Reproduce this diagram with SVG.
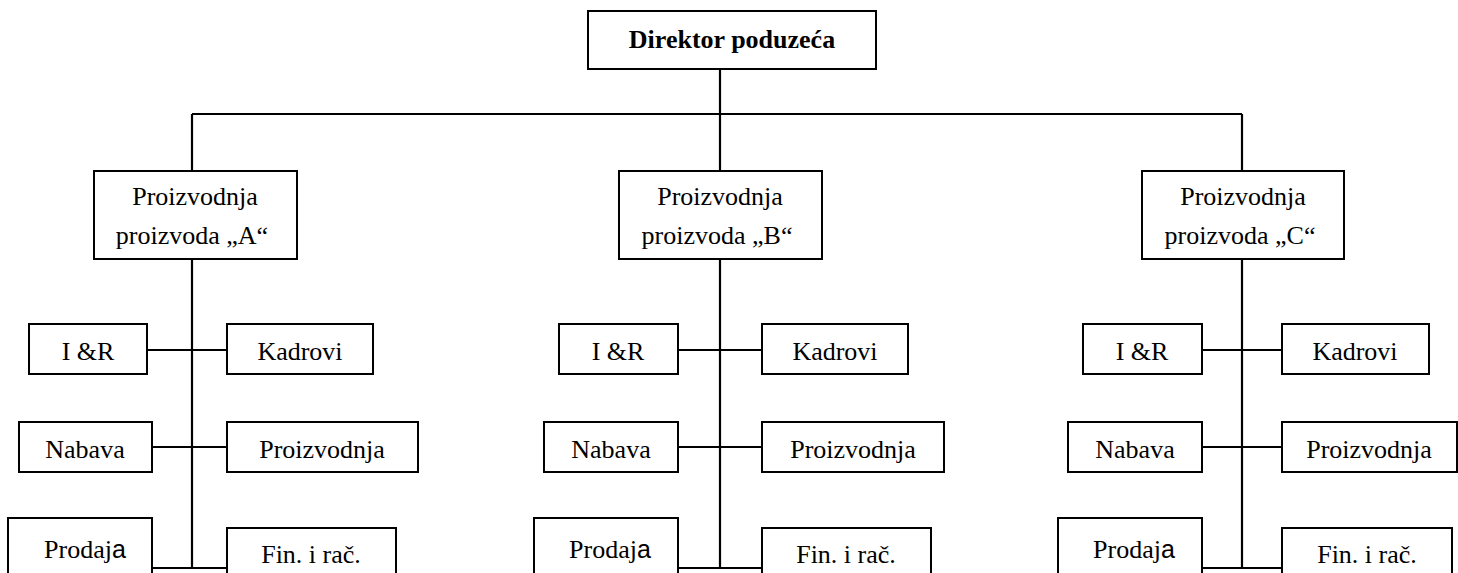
<svg xmlns="http://www.w3.org/2000/svg" width="1458" height="573" viewBox="0 0 1458 573">
<style>
.b{fill:#fff;stroke:#000;stroke-width:2}
.t{font-family:"Liberation Serif","Times New Roman",serif;font-size:26px;fill:#000;text-anchor:middle}
.bold{font-weight:bold}
.s{font-family:"Liberation Sans",Arial,sans-serif;font-size:25px}
.c{stroke:#000;stroke-width:2.2;fill:none}
</style>
<rect width="1458" height="573" fill="#fff"/>
<g id="connectors">
<line class="c" x1="720" y1="69" x2="720" y2="171"/>
<line class="c" x1="192" y1="114" x2="1242" y2="114"/>
<line class="c" x1="192" y1="114" x2="192" y2="171"/>
<line class="c" x1="1242" y1="114" x2="1242" y2="171"/>
<line class="c" x1="192" y1="259" x2="192" y2="568"/>
<line class="c" x1="147" y1="350" x2="227" y2="350"/>
<line class="c" x1="152" y1="447" x2="227" y2="447"/>
<line class="c" x1="152" y1="568" x2="227" y2="568"/>
<line class="c" x1="720" y1="259" x2="720" y2="568"/>
<line class="c" x1="678" y1="350" x2="762" y2="350"/>
<line class="c" x1="678" y1="447" x2="762" y2="447"/>
<line class="c" x1="678" y1="568" x2="762" y2="568"/>
<line class="c" x1="1242" y1="259" x2="1242" y2="568"/>
<line class="c" x1="1202" y1="350" x2="1282" y2="350"/>
<line class="c" x1="1202" y1="447" x2="1282" y2="447"/>
<line class="c" x1="1202" y1="568" x2="1282" y2="568"/>
</g>
<g id="director"><rect class="b" x="588" y="11" width="288" height="58"/><text class="t bold" x="732" y="48">Direktor poduzeća</text></g>
<g id="prodA"><rect class="b" x="94" y="171" width="203" height="88"/><text class="t" x="195" y="205">Proizvodnja</text><text class="t" x="192" y="244">proizvoda „A“</text></g>
<g id="prodB"><rect class="b" x="619" y="171" width="203" height="88"/><text class="t" x="720" y="205">Proizvodnja</text><text class="t" x="717" y="244">proizvoda „B“</text></g>
<g id="prodC"><rect class="b" x="1142" y="171" width="202" height="88"/><text class="t" x="1243" y="205">Proizvodnja</text><text class="t" x="1240" y="244">proizvoda „C“</text></g>

<g id="irA"><rect class="b" x="29" y="324" width="118" height="50"/><text class="t" x="88" y="360">I &amp;R</text></g>
<g id="kadA"><rect class="b" x="227" y="324" width="146" height="50"/><text class="t" x="300" y="360">Kadrovi</text></g>
<g id="nabA"><rect class="b" x="19" y="422" width="133" height="50"/><text class="t" x="85" y="458">Nabava</text></g>
<g id="proA"><rect class="b" x="227" y="422" width="191" height="50"/><text class="t" x="322" y="458">Proizvodnja</text></g>
<g id="prdA"><rect class="b" x="8" y="518" width="144" height="90"/><text class="t" x="85" y="558">Prodaj<tspan class="s">a</tspan></text></g>
<g id="finA"><rect class="b" x="227" y="528" width="169" height="80"/><text class="t" x="311" y="563">Fin. i rač.</text></g>

<g id="irB"><rect class="b" x="559" y="324" width="119" height="50"/><text class="t" x="618" y="360">I &amp;R</text></g>
<g id="kadB"><rect class="b" x="762" y="324" width="146" height="50"/><text class="t" x="835" y="360">Kadrovi</text></g>
<g id="nabB"><rect class="b" x="544" y="422" width="134" height="50"/><text class="t" x="611" y="458">Nabava</text></g>
<g id="proB"><rect class="b" x="762" y="422" width="182" height="50"/><text class="t" x="853" y="458">Proizvodnja</text></g>
<g id="prdB"><rect class="b" x="534" y="518" width="144" height="90"/><text class="t" x="610" y="558">Prodaj<tspan class="s">a</tspan></text></g>
<g id="finB"><rect class="b" x="762" y="528" width="169" height="80"/><text class="t" x="846" y="563">Fin. i rač.</text></g>

<g id="irC"><rect class="b" x="1083" y="324" width="119" height="50"/><text class="t" x="1142" y="360">I &amp;R</text></g>
<g id="kadC"><rect class="b" x="1282" y="324" width="147" height="50"/><text class="t" x="1355" y="360">Kadrovi</text></g>
<g id="nabC"><rect class="b" x="1068" y="422" width="134" height="50"/><text class="t" x="1135" y="458">Nabava</text></g>
<g id="proC"><rect class="b" x="1282" y="422" width="175" height="50"/><text class="t" x="1369" y="458">Proizvodnja</text></g>
<g id="prdC"><rect class="b" x="1058" y="518" width="144" height="90"/><text class="t" x="1134" y="558">Prodaj<tspan class="s">a</tspan></text></g>
<g id="finC"><rect class="b" x="1282" y="528" width="170" height="80"/><text class="t" x="1367" y="563">Fin. i rač.</text></g>
</svg>
